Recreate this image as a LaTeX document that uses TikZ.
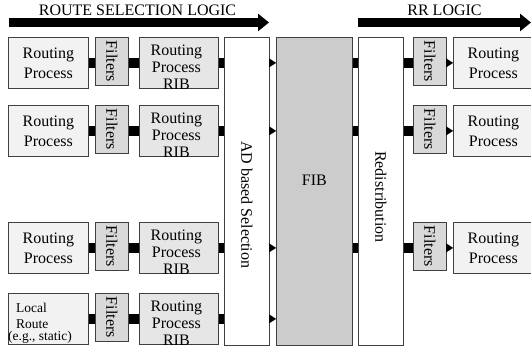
\documentclass[tikz,border=0pt]{standalone}
\usepackage{fontspec}
\setmainfont{Liberation Serif}
\usetikzlibrary{arrows.meta}
\definecolor{rpfill}{HTML}{F2F2F2}
\definecolor{filtfill}{HTML}{D9D9D9}
\definecolor{ribfill}{HTML}{E6E6E6}
\definecolor{fibfill}{HTML}{CCCCCC}
\definecolor{bordercol}{HTML}{404040}
\begin{document}
\begin{tikzpicture}[x=1pt,y=-1pt,
  basebox/.style={draw=bordercol, line width=0.8pt, inner sep=0pt, anchor=north west, align=center, font=\fontsize{16}{20}\selectfont},
  rpbox/.style={basebox, fill=rpfill, minimum width=80pt, minimum height=51pt},
  filtbox/.style={basebox, fill=filtfill, minimum width=33pt, minimum height=48pt},
  ribbox/.style={basebox, fill=ribfill, minimum width=79pt, minimum height=51pt},
  colbox/.style={basebox, fill=white, minimum height=308pt},
  ribtxt/.style={inner sep=0pt, align=center, font=\fontsize{16}{17}\selectfont},
  coltxt/.style={inner sep=0pt, font=\fontsize{16}{20}\selectfont},
  lrtxt/.style={inner sep=0pt, align=left, anchor=north west, font=\fontsize{13.5}{16}\selectfont},
  lbl/.style={inner sep=0pt, anchor=base, font=\fontsize{16}{20}\selectfont},
  bar/.style={line width=10.5pt, black},
  tipline/.style={line width=0.1pt, black, -{Triangle[length=7pt,width=9pt]}},
  bigarrow/.style={line width=9pt, black, -{Triangle[length=11pt,width=17pt]}}
]
\useasboundingbox (0,0) rectangle (531,352);

% headline arrows
\coordinate (a1s) at (9,22.5);
\coordinate (a1e) at (269,22.5);
\coordinate (a2s) at (358,22.5);
\coordinate (a2e) at (531,22.5);
\draw[bigarrow] (a1s) -- (a1e);
\draw[bigarrow] (a2s) -- (a2e);
\node[lbl] (l1) at (137.5,16) {ROUTE SELECTION LOGIC};
\node[lbl] (l2) at (444.5,16) {RR LOGIC};

% central columns
\node[colbox, minimum width=45pt] (ad) at (224,37) {};
\node[colbox, fill=fibfill, minimum width=76pt] (fib) at (276,37) {};
\node[colbox, minimum width=45pt] (red) at (358,37) {};
\node[coltxt] (adt) at ([yshift=-13.5pt]ad.center) {\rotatebox{-90}{AD based Selection}};
\node[coltxt] (fibt) at ([yshift=11pt]fib.center) {FIB};
\node[coltxt] (redt) at ([yshift=-5.5pt]red.center) {\rotatebox{-90}{Redistribution}};

% left rows
\foreach \i/\t in {1/37,2/105,3/222}{
  \node[rpbox] (rp\i) at (8,\t) {Routing\\Process};
}
\node[rpbox] (rp4) at (8,293) {};
\node[lrtxt] (lrt) at (16,302.6) {Local\\Route\\[-4pt]\hspace*{-8pt}(e.g., static)};

\foreach \i/\t in {1/37,2/105,3/222,4/293}{
  \node[filtbox] (f\i) at (95,\t) {\rotatebox{-90}{Filters}};
  \node[ribbox] (rib\i) at (139,\t) {};
  \node[ribtxt] (rib\i t) at ([xshift=-2.5pt,yshift=-4pt]rib\i.center) {Routing\\Process\\RIB};
  \draw[bar] (rp\i.east) -- (rp\i.east -| f\i.west);
  \draw[bar] (rib\i.west -| f\i.east) -- (rib\i.west);
  \draw[bar] (rib\i.east) -- (rib\i.east -| ad.west);
  \draw[tipline] (rib\i.east -| ad.east) -- (rib\i.east -| fib.west);
}

% right rows
\foreach \i/\t in {1/37,2/105,3/222}{
  \node[filtbox] (rf\i) at (413,\t) {\rotatebox{-90}{Filters}};
  \node[rpbox] (rrp\i) at (453,\t) {Routing\\Process};
  \draw[bar] (rrp\i.west -| fib.east) -- (rrp\i.west -| red.west);
  \draw[bar] (rrp\i.west -| red.east) -- (rrp\i.west -| rf\i.west);
  \draw[tipline] (rrp\i.west -| rf\i.east) -- (rrp\i.west);
}
\end{tikzpicture}
\end{document}
